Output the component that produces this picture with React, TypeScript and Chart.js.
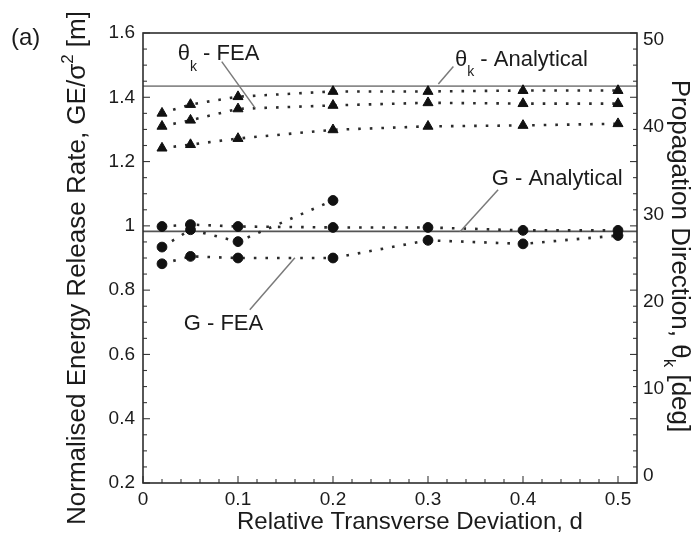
import { useEffect, useRef } from "react";
import { Chart, registerables } from "chart.js";

Chart.register(...registerables);

// Relative transverse deviation, d
const deviation = [0.02, 0.05, 0.1, 0.2, 0.3, 0.4, 0.5];

// Crack propagation direction from FEA, theta_k [deg] (three runs)
const thetaFea1 = [41.6, 42.6, 43.5, 44.1, 44.1, 44.2, 44.2];
const thetaFea2 = [40.1, 40.8, 42.1, 42.5, 42.8, 42.7, 42.7];
const thetaFea3 = [37.6, 38.0, 38.7, 39.7, 40.1, 40.2, 40.4];

// Normalised energy release rate from FEA, G E / sigma^2 [m] (three runs)
const gFea1 = [0.998, 1.004, 0.998, 0.995, 0.995, 0.986, 0.986];
const gFea2 = [0.934, 0.988, 0.951, 1.079, null, null, null];
const gFea3 = [0.882, 0.905, 0.9, 0.9, 0.955, 0.944, 0.97];

// Analytical reference values
const thetaAnalytical = 44.7;
const gAnalytical = 0.983;

// Axis ranges and tick labels
const dRange = [0, 0.52];
const gRange = [0.2, 1.6];
const thetaRange = [-0.8, 50.8];
const dTicks = [0, 0.1, 0.2, 0.3, 0.4, 0.5];
const gTicks = [0.2, 0.4, 0.6, 0.8, 1, 1.2, 1.4, 1.6];
const thetaTicks = [0, 10, 20, 30, 40, 50];

const FONT = "'Liberation Sans', Arial, Helvetica, sans-serif";
const INK = "#1b1b1b";

type Callout = {
  main: string;
  sub?: string;
  rest?: string;
  at: [number, number]; // (d, G) of the label's left edge / cap centre
  leader: [number, number][]; // (d, G) end points of the pointer line
};

const callouts: Callout[] = [
  { main: "θ", sub: "k", rest: " - FEA", at: [0.0366, 1.54], leader: [[0.0829, 1.511], [0.1177, 1.368]] },
  { main: "θ", sub: "k", rest: " - Analytical", at: [0.3284, 1.522], leader: [[0.3267, 1.496], [0.3109, 1.441]] },
  { main: "G - Analytical", at: [0.3671, 1.15], leader: [[0.3738, 1.112], [0.3337, 0.982]] },
  { main: "G - FEA", at: [0.0429, 0.699], leader: [[0.1124, 0.739], [0.1599, 0.901]] },
];

type Part = { t: string; size: number; dy: number };

function partsWidth(ctx: CanvasRenderingContext2D, parts: Part[]) {
  let w = 0;
  for (const p of parts) {
    ctx.font = `${p.size}px ${FONT}`;
    w += ctx.measureText(p.t).width;
  }
  return w;
}

function drawParts(ctx: CanvasRenderingContext2D, parts: Part[], x: number, y: number) {
  let cx = x;
  for (const p of parts) {
    ctx.font = `${p.size}px ${FONT}`;
    ctx.fillText(p.t, cx, y + p.dy);
    cx += ctx.measureText(p.t).width;
  }
}

const points = (ys: (number | null)[]) => deviation.map((d, i) => ({ x: d, y: ys[i] }));

const dotted = {
  showLine: true,
  borderColor: "#2b2b2b",
  borderWidth: 2.6,
  borderDash: [2.6, 9],
  pointBackgroundColor: "#111",
  pointBorderColor: "#111",
  pointBorderWidth: 1,
  fill: false,
  tension: 0,
};

const triangle = { ...dotted, pointStyle: "triangle", pointRadius: 5.8, yAxisID: "y1" };
const circle = { ...dotted, pointStyle: "circle", pointRadius: 4.9, yAxisID: "y" };

const decorations = {
  id: "decorations",
  afterDraw(chart: any) {
    const { ctx, chartArea: a, scales } = chart;
    const sx = scales.x;
    const sy = scales.y;
    ctx.save();

    // inward tick marks
    ctx.strokeStyle = "#3a3a3a";
    ctx.lineWidth = 1.1;
    const seg = (x1: number, y1: number, x2: number, y2: number) => {
      ctx.beginPath();
      ctx.moveTo(x1, y1);
      ctx.lineTo(x2, y2);
      ctx.stroke();
    };
    for (let i = 0; i <= 25; i++) {
      const px = sx.getPixelForValue(i * 0.02);
      const len = i % 5 === 0 ? 7 : 4;
      seg(px, a.bottom, px, a.bottom - len);
    }
    for (let i = 0; i <= 28; i++) {
      const py = sy.getPixelForValue(gRange[0] + i * 0.05);
      const len = i % 4 === 0 ? 7 : 4;
      seg(a.left, py, a.left + len, py);
      seg(a.right, py, a.right - len, py);
    }

    // plot frame
    ctx.strokeStyle = "#2e2e2e";
    ctx.lineWidth = 1.6;
    ctx.strokeRect(a.left, a.top, a.right - a.left, a.bottom - a.top);

    // call-out labels with pointer lines
    ctx.fillStyle = INK;
    ctx.textBaseline = "alphabetic";
    ctx.textAlign = "left";
    for (const c of callouts) {
      ctx.strokeStyle = "#7a7a7a";
      ctx.lineWidth = 1.5;
      const [p0, p1] = c.leader;
      seg(sx.getPixelForValue(p0[0]), sy.getPixelForValue(p0[1]), sx.getPixelForValue(p1[0]), sy.getPixelForValue(p1[1]));
      const parts: Part[] = [{ t: c.main, size: 22, dy: 0 }];
      if (c.sub) parts.push({ t: c.sub, size: 14, dy: 10.5 });
      if (c.rest) parts.push({ t: c.rest, size: 22, dy: 0 });
      drawParts(ctx, parts, sx.getPixelForValue(c.at[0]), sy.getPixelForValue(c.at[1]) + 7.8);
    }

    // axis titles
    const xTitle: Part[] = [{ t: "Relative Transverse Deviation, d", size: 24, dy: 0 }];
    drawParts(ctx, xTitle, 410 - partsWidth(ctx, xTitle) / 2, 529);

    const yTitle: Part[] = [
      { t: "Normalised Energy Release Rate, GE/σ", size: 26, dy: 0 },
      { t: "2", size: 17, dy: -12 },
      { t: " [m]", size: 26, dy: 0 },
    ];
    ctx.save();
    ctx.translate(85, 268);
    ctx.rotate(-Math.PI / 2);
    drawParts(ctx, yTitle, -partsWidth(ctx, yTitle) / 2, 0);
    ctx.restore();

    const y1Title: Part[] = [
      { t: "Propagation Direction, θ", size: 26, dy: 0 },
      { t: "k", size: 17, dy: 8 },
      { t: " [deg]", size: 26, dy: 0 },
    ];
    ctx.save();
    ctx.translate(672, 256);
    ctx.rotate(Math.PI / 2);
    drawParts(ctx, y1Title, -partsWidth(ctx, y1Title) / 2, 0);
    ctx.restore();

    // panel tag
    drawParts(ctx, [{ t: "(a)", size: 24, dy: 0 }], 11, 45);

    ctx.restore();
  },
};

const tickFont = { family: FONT, size: 19 };

export default function App() {
  const ref = useRef<HTMLCanvasElement>(null);

  useEffect(() => {
    const chart = new Chart(ref.current as HTMLCanvasElement, {
      type: "line",
      data: {
        datasets: [
          { ...triangle, data: points(thetaFea1) },
          { ...triangle, data: points(thetaFea2) },
          { ...triangle, data: points(thetaFea3) },
          { ...circle, data: points(gFea1) },
          { ...circle, data: points(gFea2) },
          { ...circle, data: points(gFea3) },
          {
            data: dRange.map((d) => ({ x: d, y: thetaAnalytical })),
            yAxisID: "y1",
            borderColor: "#8a8a8a",
            borderWidth: 1.8,
            pointRadius: 0,
          },
          {
            data: dRange.map((d) => ({ x: d, y: gAnalytical })),
            yAxisID: "y",
            borderColor: "#555",
            borderWidth: 1.8,
            pointRadius: 0,
          },
        ] as any,
      },
      options: {
        responsive: false,
        animation: false,
        devicePixelRatio: 1,
        layout: { padding: { top: 33, left: 0, right: 0, bottom: 0 } },
        plugins: { legend: { display: false }, tooltip: { enabled: false } },
        scales: {
          x: {
            type: "linear",
            position: "bottom",
            min: dRange[0],
            max: dRange[1],
            grid: { display: false, drawTicks: false },
            border: { display: false },
            ticks: { font: tickFont, color: INK, padding: 5, maxRotation: 0, callback: (v: any) => String(v) },
            afterBuildTicks: (s: any) => {
              s.ticks = dTicks.map((v) => ({ value: v }));
            },
            afterFit: (s: any) => {
              s.height = 55;
            },
          },
          y: {
            type: "linear",
            position: "left",
            min: gRange[0],
            max: gRange[1],
            grid: { display: false, drawTicks: false },
            border: { display: false },
            ticks: { font: tickFont, color: INK, padding: 8, callback: (v: any) => String(v) },
            afterBuildTicks: (s: any) => {
              s.ticks = gTicks.map((v) => ({ value: v }));
            },
            afterFit: (s: any) => {
              s.width = 143;
            },
          },
          y1: {
            type: "linear",
            position: "right",
            min: thetaRange[0],
            max: thetaRange[1],
            grid: { display: false, drawTicks: false },
            border: { display: false },
            ticks: { font: tickFont, color: INK, padding: 6, callback: (v: any) => String(v) },
            afterBuildTicks: (s: any) => {
              s.ticks = thetaTicks.map((v) => ({ value: v }));
            },
            afterFit: (s: any) => {
              s.width = 56;
            },
          },
        },
      },
      plugins: [decorations],
    } as any);
    return () => chart.destroy();
  }, []);

  return (
    <div style={{ position: "fixed", left: 0, top: 0, width: 693, height: 538, background: "#fff" }}>
      <canvas ref={ref} width={693} height={538} style={{ display: "block", width: 693, height: 538 }} />
    </div>
  );
}
